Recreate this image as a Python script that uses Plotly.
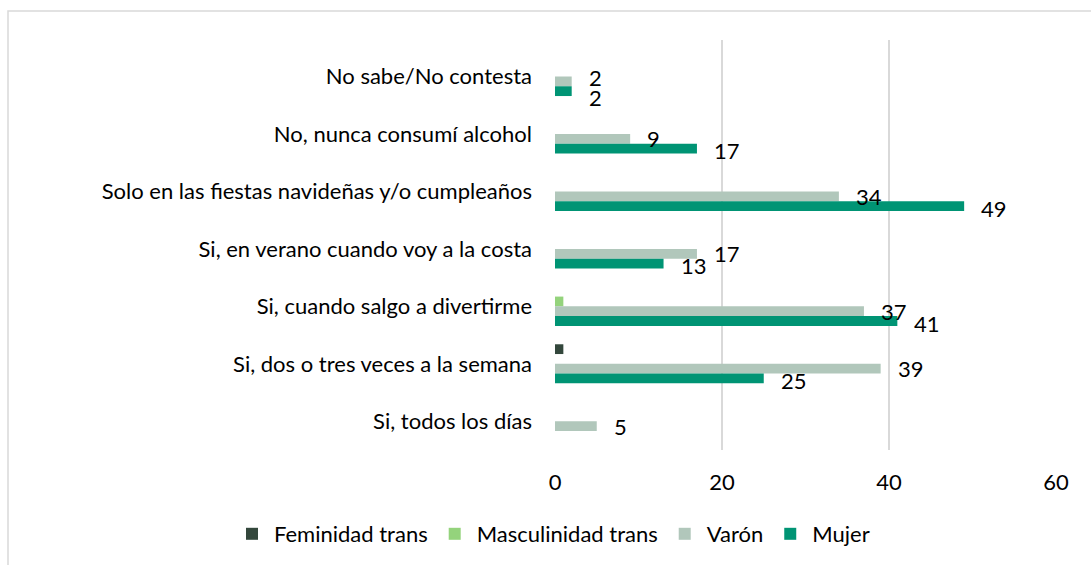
import plotly.graph_objects as go

categories = [
    "No sabe/No contesta",
    "No, nunca consumí alcohol",
    "Solo en las fiestas navideñas y/o cumpleaños",
    "Si, en verano cuando voy a la costa",
    "Si, cuando salgo a divertirme",
    "Si, dos o tres veces a la semana",
    "Si, todos los días",
]
feminidad_trans = [0, 0, 0, 0, 0, 1, 0]
masculinidad_trans = [0, 0, 0, 0, 1, 0, 0]
varon = [2, 9, 34, 17, 37, 39, 5]
mujer = [2, 17, 49, 13, 41, 25, 0]
x_ticks = [0, 20, 40, 60]

FONT = "Lato"
FS = 22
fig = go.Figure()
series = [
    ("Feminidad trans", feminidad_trans, "#33473c"),
    ("Masculinidad trans", masculinidad_trans, "#94d37c"),
    ("Varón", varon, "#b1c7bb"),
    ("Mujer", mujer, "#009474"),
]
for name, vals, col in series:
    fig.add_trace(go.Bar(
        y=categories, x=vals, name=name, orientation="h",
        marker=dict(color=col, line=dict(width=0)),
    ))

# data labels (outside end) for Varón and Mujer; spread apart when they would collide
annotations = []
for i, c in enumerate(categories):
    close = varon[i] > 0 and mujer[i] > 0 and abs(varon[i] - mujer[i]) < 3
    for v, ysh in ((varon[i], -5 + (4 if close else 0)), (mujer[i], -17 - (4 if close else 0))):
        if v > 0:
            annotations.append(dict(
                x=v, y=c, xref="x", yref="y", text=str(v), showarrow=False,
                xanchor="left", yanchor="middle", xshift=15, yshift=ysh,
                font=dict(family=FONT, size=FS, color="#000000"),
            ))

shapes = [dict(
    type="rect", xref="paper", yref="paper",
    x0=(8 - 555) / 501, x1=1.2, y0=-0.4, y1=(450 - 11) / 410,
    line=dict(color="#d9d9d9", width=1.5), fillcolor="rgba(0,0,0,0)", layer="below",
)]

fig.update_layout(
    width=1091, height=565,
    margin=dict(l=555, r=35, t=40, b=115, autoexpand=False),
    barmode="group", bargap=0.32, bargroupgap=0,
    plot_bgcolor="white", paper_bgcolor="white",
    font=dict(family=FONT, size=FS, color="#000000"),
    xaxis=dict(range=[0, 60], tickvals=x_ticks, showgrid=True, gridcolor="#d9d9d9",
               gridwidth=1.5, zeroline=False, showline=False, ticks="",
               tickfont=dict(size=FS), ticklabelstandoff=17),
    yaxis=dict(categoryorder="array", categoryarray=categories, autorange="reversed",
               showgrid=False, zeroline=False, showline=False, ticks="",
               tickfont=dict(size=FS), ticklabelstandoff=22),
    legend=dict(orientation="h", xref="paper", yref="paper",
                x=(230 - 555) / 501, y=(450 - 534) / 410,
                xanchor="left", yanchor="middle", font=dict(size=FS),
                traceorder="normal", itemwidth=34),
    annotations=annotations, shapes=shapes,
    showlegend=True,
)
fig.write_html("out.html", config={"displayModeBar": False},
               post_script="document.body.style.margin='0';")
